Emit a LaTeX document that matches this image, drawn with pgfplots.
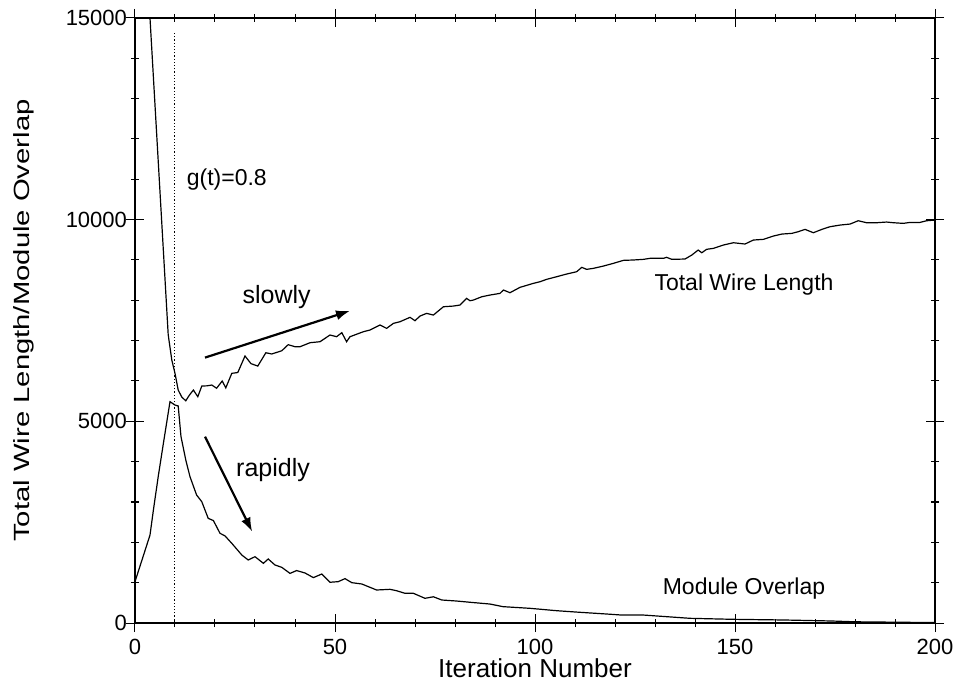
\documentclass[border=0pt]{standalone}
\usepackage{fontspec}
\setmainfont{Liberation Sans}
\usepackage{graphicx}
\usepackage{pgfplots}
\pgfplotsset{compat=1.18}
\usetikzlibrary{arrows.meta}

% wire length
\pgfplotstableread{
x y
3 16300
3.75 15000
8.3 7150
9.2 6520
10 6190
10.8 5776
11.7 5600
12.7 5510
13.6 5650
14.6 5776
15.7 5610
16.7 5875
18 5880
19.2 5900
20.4 5820
21.8 6000
22.7 5830
24.2 6190
25.7 6210
27.5 6620
29 6430
30.7 6370
32.7 6700
34.2 6670
36.7 6750
38.3 6900
40 6850
41.25 6850
43.75 6949
46.25 6974
48.75 7140
50.4 7098
51.7 7198
52.9 6974
53.75 7098
57.1 7222
58.75 7264
61.25 7388
62.9 7305
64.6 7429
66.25 7470
68.75 7578
70 7495
71.25 7610
72.9 7677
74.6 7635
77.1 7841
79.6 7858
81.25 7883
82.9 8049
83.75 7990
84.6 8007
86.7 8089
88.75 8131
91.25 8173
92.1 8255
93.75 8189
96.25 8322
99.6 8421
101.25 8461
102.9 8520
105.4 8585
107.9 8652
110.4 8709
111.7 8818
112.9 8768
114.6 8793
117.1 8850
119.6 8917
122.1 8991
124.6 9000
127.1 9016
128.75 9041
132.1 9041
132.9 9066
134.2 9016
137.5 9024
139.2 9123
140.8 9247
141.7 9180
142.9 9264
144.6 9289
147.1 9371
149.6 9428
152.5 9396
154.6 9495
157.1 9512
159.6 9594
161.7 9643
164.2 9660
165.8 9701
167.5 9759
169.6 9676
171.7 9759
173.75 9825
176.25 9866
178.75 9891
180.8 9973
182.9 9924
185.4 9924
187.9 9941
189.6 9924
192.1 9908
193.75 9932
196.25 9932
197.9 9973
200 9990
}\wirelen

% module overlap
\pgfplotstableread{
x y
0 1024
3.75 2180
4.6 2800
5.8 3627
7.1 4455
8.75 5487
10 5404
10.8 5380
11.5 4620
12.7 4040
13.75 3627
15.4 3173
16.7 3007
18.3 2595
19.6 2540
21.25 2224
22.5 2160
24.2 1975
26.7 1686
28.3 1562
30 1644
32.1 1480
33.3 1587
35 1438
36.7 1380
38.75 1230
40.4 1300
42.5 1240
44.6 1125
46.7 1215
48.75 1010
50.8 1025
52.5 1100
54.2 1000
56.7 967
60.4 818
63.75 835
65.4 800
67.5 736
69.6 736
72.5 612
74.6 650
76.7 570
80.4 545
84.2 510
88.75 470
92 405
98.75 364
105.4 305
111.25 265
117.9 223
121.25 200
127 198
138.75 116
149.6 91
162 75
174 50
180 30
200 10
}\overlap

\begin{document}
\begin{tikzpicture}
\begin{axis}[
  scale only axis,
  width=400pt, height=302.5pt,
  xmin=0, xmax=200, ymin=0, ymax=15000,
  xtick={0,50,...,200}, ytick={0,5000,10000,15000},
  minor x tick num=4, minor y tick num=4,
  scaled y ticks=false,
  tick align=center,
  major tick length=9pt, minor tick length=4pt,
  tick style={black, line width=0.5pt},
  axis line style={line width=0.6pt},
  /pgf/number format/.cd, 1000 sep={}, assume math mode=true, /pgfplots/.cd,
  ticklabel style={font=\fontsize{11}{13}\selectfont},
  yticklabel style={xshift=4pt},
  xlabel={Iteration Number},
  ylabel={\scalebox{1.33}[1]{Total Wire Length/Module Overlap}},
  xlabel style={font=\fontsize{13}{15}\selectfont, at={(axis description cs:0.5,-0.074)}, anchor=center},
  ylabel style={font=\fontsize{11}{13}\selectfont, at={(axis description cs:-0.139,0.5)}, anchor=center},
]
\addplot[black, line width=0.5pt, dash pattern=on 0.6pt off 1pt] coordinates {(10,0) (10,14660)};
\addplot[black, line width=0.6pt] table {\wirelen};
\addplot[black, line width=0.6pt] table {\overlap};

\draw[-{Latex[length=7pt,width=5pt]}, line width=1.1pt] (axis cs:17.5,6580) -- (axis cs:53.75,7740);
\draw[-{Latex[length=7pt,width=5pt]}, line width=1.1pt] (axis cs:17.5,4620) -- (axis cs:29.3,2265);

\node[anchor=west, font=\fontsize{11.5}{13}\selectfont] at (axis cs:11.2,11000) {g(t)=0.8};
\node[font=\fontsize{12.5}{14}\selectfont] at (axis cs:35.4,8070) {slowly};
\node[font=\fontsize{12.5}{14}\selectfont] at (axis cs:34.5,3793) {rapidly};
\node[font=\fontsize{11.5}{13}\selectfont] at (axis cs:152.25,8380) {Total Wire Length};
\node[font=\fontsize{11.5}{13}\selectfont] at (axis cs:152.25,843) {Module Overlap};
\end{axis}
\pgfresetboundingbox
\path[use as bounding box] (-67.5pt,-31.5pt) rectangle (409pt,311.5pt);
\end{tikzpicture}
\end{document}
